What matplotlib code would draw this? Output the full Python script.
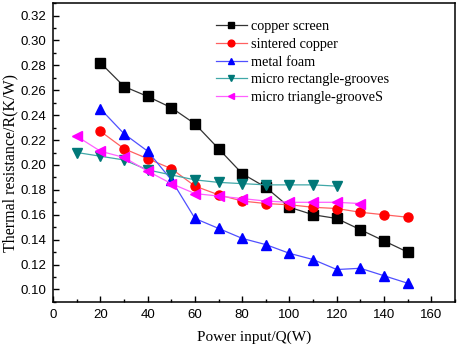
import numpy as np
import matplotlib
matplotlib.use("Agg")
import matplotlib.pyplot as plt
from matplotlib.ticker import MultipleLocator

### data
q_cs = [20, 30, 40, 50, 60, 70, 80, 90, 100, 110, 120, 130, 140, 150]
copper_screen = [0.282, 0.263, 0.255, 0.246, 0.233, 0.213, 0.193, 0.182,
                 0.166, 0.160, 0.157, 0.148, 0.139, 0.130]

q_sc = [20, 30, 40, 50, 60, 70, 80, 90, 100, 110, 120, 130, 140, 150]
sintered_copper = [0.227, 0.213, 0.205, 0.197, 0.183, 0.176, 0.171, 0.169,
                   0.168, 0.166, 0.165, 0.162, 0.160, 0.158]

q_mf = [20, 30, 40, 50, 60, 70, 80, 90, 100, 110, 120, 130, 140, 150]
metal_foam = [0.245, 0.225, 0.211, 0.188, 0.157, 0.149, 0.141, 0.136,
              0.129, 0.124, 0.116, 0.117, 0.111, 0.105]

q_rg = [10, 20, 30, 40, 50, 60, 70, 80, 90, 100, 110, 120]
rect_grooves = [0.210, 0.207, 0.204, 0.196, 0.192, 0.188, 0.186, 0.185,
                0.184, 0.184, 0.184, 0.183]

q_tg = [10, 20, 30, 40, 50, 60, 70, 80, 90, 100, 110, 120, 130]
tri_grooves = [0.223, 0.211, 0.206, 0.195, 0.185, 0.177, 0.175, 0.173,
               0.171, 0.170, 0.170, 0.170, 0.169]

series = [
    (q_cs, copper_screen, 'copper screen', 's', 'black', '#333333'),
    (q_sc, sintered_copper, 'sintered copper', 'o', 'red', '#ff6060'),
    (q_mf, metal_foam, 'metal foam', '^', 'blue', '#5050ff'),
    (q_rg, rect_grooves, 'micro rectangle-grooves', 'v', '#007878', '#40a8a8'),
    (q_tg, tri_grooves, 'micro triangle-grooveS', '<', 'magenta', '#ff60ff'),
]

fig, ax = plt.subplots(figsize=(4.59, 3.47), dpi=100)
fig.subplots_adjust(left=0.116, right=0.991, top=0.991, bottom=0.13)

for x, y, lab, mk, c, lc in series:
    ax.plot(x, y, color=lc, lw=0.9, marker=mk, markersize=6.5,
            markerfacecolor=c, markeredgecolor=c, label=lab)

ax.set_xlim(0, 170)
ax.set_ylim(0.09, 0.33)
ax.xaxis.set_major_locator(MultipleLocator(20))
ax.xaxis.set_minor_locator(MultipleLocator(10))
ax.yaxis.set_major_locator(MultipleLocator(0.02))
ax.yaxis.set_minor_locator(MultipleLocator(0.01))
ax.tick_params(which='both', direction='in', top=False, right=False,
               labelsize=9.5, labelfontfamily='Liberation Sans', pad=5)
ax.tick_params(which='major', length=4, width=1)
ax.tick_params(which='minor', length=2.5, width=1)
ax.yaxis.set_major_formatter(matplotlib.ticker.FormatStrFormatter('%.2f'))
for s in ax.spines.values():
    s.set_linewidth(1.1)

ax.set_xlabel('Power input/Q(W)', family='Liberation Serif', fontsize=11,
              labelpad=7)
ax.set_ylabel('Thermal resistance/R(K/W)', family='Liberation Serif',
              fontsize=11.5)
ax.yaxis.set_label_coords(-0.088, 0.465)

leg = ax.legend(loc='upper left', bbox_to_anchor=(0.39, 0.962), frameon=False,
                prop={'family': 'Liberation Serif', 'size': 10.3},
                handlelength=2.2, labelspacing=0.33, handletextpad=0.3,
                borderaxespad=0, markerscale=0.75)

plt.savefig('out.png', dpi=100)
